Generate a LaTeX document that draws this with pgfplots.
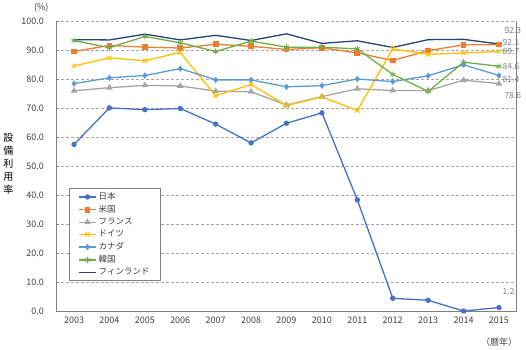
\documentclass[border=0pt]{standalone}
\usepackage{pgfplots}
\pgfplotsset{compat=1.18}
\usepackage{fontspec}
\setmainfont{Noto Sans CJK JP}
\definecolor{cJP}{HTML}{4472C4}
\definecolor{cUS}{HTML}{ED7D31}
\definecolor{cFR}{HTML}{A5A5A5}
\definecolor{cDE}{HTML}{FFC000}
\definecolor{cCA}{HTML}{5B9BD5}
\definecolor{cKR}{HTML}{70AD47}
\definecolor{cFI}{HTML}{264478}
\definecolor{axgray}{HTML}{808080}
\definecolor{txt}{HTML}{404040}
\begin{document}
\begin{tikzpicture}
\begin{axis}[
  scale only axis,
  width=460.4pt, height=289.3pt,
  xmin=2002.5, xmax=2015.5, ymin=0, ymax=100,
  xtick={2003,...,2015},
  ytick={0,10,...,100},
  x tick label style={/pgf/number format/1000 sep={}},
  y tick label style={/pgf/number format/fixed,/pgf/number format/fixed zerofill,/pgf/number format/precision=1},
  /pgf/number format/assume math mode=true,
  ticklabel style={font=\fontsize{9}{10}\selectfont, text=txt},
  yticklabel style={xshift=-9pt},
  xticklabel style={yshift=-2pt},
  axis x line*=bottom, axis y line*=left,
  axis line style={-, draw=axgray, line width=0.8pt},
  xtick style={draw=none},
  minor x tick num=1,
  minor x tick style={draw=axgray, line width=0.6pt},
  minor tick length=3pt,
  major tick length=3pt,
  ytick style={draw=axgray, line width=0.6pt},
  tick align=inside,
  ymajorgrids,
  grid style={draw=gray!70, dash pattern=on 3pt off 2pt, line width=0.6pt},
  every axis plot/.append style={line width=1.3pt},
  legend cell align=left,
  legend style={at={(0.0276,0.424)}, anchor=north west, draw=axgray, line width=0.6pt,
    font=\fontsize{8.5}{9}\selectfont, text=txt, row sep=0.2pt, inner xsep=9pt, inner ysep=2pt},
  clip=false,
]
\addplot[color=cJP, mark=*, mark size=2pt] coordinates {
 (2003,57.6) (2004,70.2) (2005,69.6) (2006,70.0) (2007,64.6) (2008,58.1) (2009,64.9)
 (2010,68.5) (2011,38.4) (2012,4.4) (2013,3.7) (2014,0.0) (2015,1.2)};
\addlegendentry{日本}
\addplot[color=cUS, mark=square*, mark size=2.2pt] coordinates {
 (2003,89.7) (2004,91.8) (2005,91.2) (2006,90.9) (2007,92.2) (2008,91.5) (2009,90.4)
 (2010,91.0) (2011,89.2) (2012,86.6) (2013,90.0) (2014,92.0) (2015,92.1)};
\addlegendentry{米国}
\addplot[color=cFR, mark=triangle*, mark size=2.5pt] coordinates {
 (2003,76.1) (2004,77.2) (2005,78.0) (2006,77.8) (2007,76.0) (2008,75.8) (2009,71.2)
 (2010,74.1) (2011,76.8) (2012,76.2) (2013,76.2) (2014,79.8) (2015,78.6)};
\addlegendentry{フランス}
\addplot[color=cDE, mark=x, mark size=3pt, mark options={line width=1pt}] coordinates {
 (2003,84.7) (2004,87.5) (2005,86.5) (2006,89.4) (2007,74.4) (2008,78.3) (2009,71.0)
 (2010,74.0) (2011,69.3) (2012,90.6) (2013,88.7) (2014,89.2) (2015,89.7)};
\addlegendentry{ドイツ}
\addplot[color=cCA, mark=diamond*, mark size=2.2pt] coordinates {
 (2003,78.6) (2004,80.6) (2005,81.4) (2006,83.8) (2007,79.9) (2008,79.9) (2009,77.5)
 (2010,77.9) (2011,80.2) (2012,79.3) (2013,81.3) (2014,85.1) (2015,81.4)};
\addlegendentry{カナダ}
\addplot[color=cKR, mark=asterisk, mark size=3pt, mark options={line width=0.9pt}] coordinates {
 (2003,93.5) (2004,91.0) (2005,94.9) (2006,92.7) (2007,89.7) (2008,93.3) (2009,91.2)
 (2010,91.2) (2011,90.6) (2012,81.8) (2013,75.9) (2014,86.0) (2015,84.6)};
\addlegendentry{韓国}
\addplot[color=cFI, mark=none] coordinates {
 (2003,93.8) (2004,93.7) (2005,95.7) (2006,93.7) (2007,95.3) (2008,93.5) (2009,95.8)
 (2010,92.5) (2011,93.4) (2012,91.1) (2013,93.8) (2014,93.9) (2015,92.3)};
\addlegendentry{フィンランド}
% right border
\draw[axgray, line width=0.8pt] (rel axis cs:1,0) -- (rel axis cs:1,1);
% end labels
\begin{scope}[every node/.style={anchor=west, font=\fontsize{8.5}{9}\selectfont, text=gray, inner sep=0pt}]
\node at (axis cs:2015.15,96.9) {92.3};
\node at (axis cs:2015.10,92.8) {92.1};
\node at (axis cs:2015.10,89.7) {89.7};
\node at (axis cs:2015.10,84.5) {84.6};
\node at (axis cs:2015.10,79.9) {81.4};
\node at (axis cs:2015.15,74.5) {78.6};
\node at (axis cs:2015.10,6.6) {1.2};
\end{scope}
\node[font=\fontsize{9}{10}\selectfont, text=txt] at ([xshift=-15pt,yshift=14.5pt]rel axis cs:0,1) {(\%)};
\node[font=\fontsize{9}{10}\selectfont, text=txt, anchor=center] at ([yshift=-31pt,xshift=-17.5pt]rel axis cs:1,0) {（暦年）};
\node[font=\fontsize{10}{13}\selectfont, text=black, align=center, inner sep=0pt] at ([xshift=-47.8pt,yshift=2pt]rel axis cs:0,0.5) {設\\備\\利\\用\\率};
\end{axis}
\pgfresetboundingbox
\useasboundingbox (-56.3pt,-38pt) rectangle (469.7pt,311pt);
\end{tikzpicture}
\end{document}
